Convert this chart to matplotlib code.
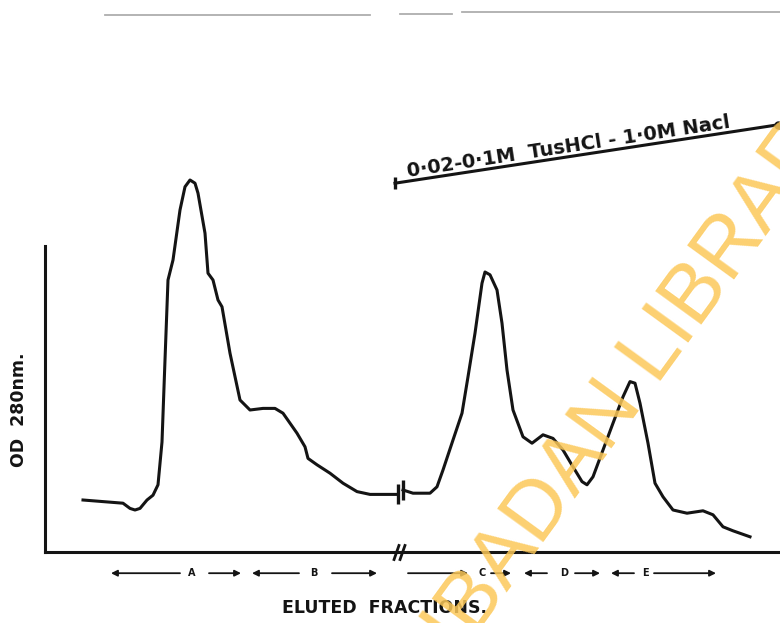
import numpy as np
import matplotlib as mpl
import matplotlib.pyplot as plt
from matplotlib.lines import Line2D

mpl.rcParams['font.family'] = ['DejaVu Sans']
ink = '#141414'

# elution profile: fraction number vs OD 280 nm
# first run (before the break in the x axis)
frac_run1 = [3.8, 7.8, 8.5, 9.0, 9.5, 10.2, 10.8, 11.3, 11.7, 12.0, 12.3, 12.8, 13.5,
             14.0, 14.5, 15.0, 15.3, 16.0, 16.3, 16.8, 17.3, 17.7, 18.5, 19.5, 20.5,
             21.8, 23.0, 23.8, 25.2, 26.0, 26.3, 27.2, 28.5, 29.8, 31.2, 32.5, 35.3]
od_run1 = [0.130, 0.122, 0.109, 0.105, 0.109, 0.130, 0.142, 0.168, 0.275, 0.480, 0.680,
           0.730, 0.855, 0.913, 0.930, 0.922, 0.897, 0.797, 0.697, 0.680, 0.630, 0.613,
           0.497, 0.380, 0.355, 0.359, 0.359, 0.347, 0.297, 0.263, 0.234, 0.218, 0.197,
           0.172, 0.151, 0.144, 0.144]

# second run (gradient elution)
frac_run2 = [35.8, 36.8, 38.5, 39.2, 39.8, 40.8, 41.7, 42.3, 43.0, 43.7, 44.0, 44.5,
             45.2, 45.7, 46.2, 46.8, 47.8, 48.7, 49.8, 50.8, 51.8, 52.8, 53.7, 54.2,
             54.8, 55.8, 56.8, 57.8, 58.5, 59.0, 59.5, 60.3, 61.0, 61.8, 62.8, 64.2,
             65.8, 66.8, 67.8, 68.8, 70.5]
od_run2 = [0.155, 0.147, 0.147, 0.163, 0.205, 0.280, 0.347, 0.438, 0.547, 0.672, 0.700,
           0.693, 0.655, 0.572, 0.455, 0.355, 0.288, 0.272, 0.293, 0.284, 0.255, 0.213,
           0.176, 0.168, 0.188, 0.255, 0.322, 0.388, 0.426, 0.422, 0.372, 0.272, 0.172,
           0.138, 0.105, 0.097, 0.103, 0.093, 0.063, 0.053, 0.038]

# salt gradient bar
grad_frac = [35.0, 73.3]
grad_od = [0.922, 1.068]
grad_text = '0·02-0·1M  TusHCl - 1·0M Nacl'

# pooled fractions
pools = ['A', 'B', 'C', 'D', 'E']
pool_label_x = [14.7, 26.9, 43.7, 51.9, 60.0]
pool_left = [(13.5, 6.6), (25.4, 20.7), (36.3, 42.3), (50.2, 47.9), (58.9, 56.6)]  # (tail, head)
pool_right = [(16.4, 19.6), (28.7, 33.2), (44.6, 46.6), (53.0, 55.5), (60.9, 67.1)]
pool_row = -0.053

fig = plt.figure(figsize=(7.8, 6.23), dpi=100)
ax = fig.add_axes([45 / 780, 71 / 623, 735 / 780, 552 / 623])
ax.set_xlim(0, 73.5)
ax.set_ylim(0, 1.38)
ax.set_xticks([])
ax.set_yticks([])
ax.patch.set_alpha(0)
for s in ['top', 'right']:
    ax.spines[s].set_visible(False)
ax.spines['left'].set_bounds(0, 0.765)
for s in ['left', 'bottom']:
    ax.spines[s].set_linewidth(2.2)
    ax.spines[s].set_color(ink)
    ax.spines[s].set_zorder(3)

# faint rule from the previous page
for (x0, x1, yy) in [(105, 370, 608), (400, 452, 609), (462, 780, 611)]:
    fig.add_artist(Line2D([x0 / 780, x1 / 780], [yy / 623, yy / 623], color='#9a9a9a',
                          lw=1.3, alpha=0.8))

# profile
ax.plot(frac_run1, od_run1, color=ink, lw=2.2, solid_joinstyle='round', zorder=4)
ax.plot(frac_run2, od_run2, color=ink, lw=2.2, solid_joinstyle='round', zorder=4)
ax.plot([frac_run1[-1], frac_run2[0]], [od_run1[-1], od_run2[0]], ls='none',
        marker='|', ms=15, mew=2.4, color=ink, zorder=4)

# break on the x axis
slash = [(-0.35, -1), (0.35, 1)]
ax.plot([35.1, 35.7], [0, 0], ls='none', marker=slash, ms=12, mew=2.0, color=ink,
        clip_on=False, zorder=5)

# gradient bar
ax.plot(grad_frac, grad_od, color=ink, lw=2.2, clip_on=False, zorder=4)
ax.plot(grad_frac[0], grad_od[0], marker='|', ms=9, mew=2.4, color=ink, clip_on=False)
ax.plot(grad_frac[-1], grad_od[-1], marker='o', ms=5, color=ink, clip_on=False)
ax.text(52.4, 1.012, grad_text, rotation=8.7, rotation_mode='anchor', ha='center',
        va='center', fontsize=14, fontweight='bold', color=ink)

# pooled fraction arrows
arrow_kw = dict(arrowstyle='-|>', color=ink, lw=1.3, mutation_scale=9,
                shrinkA=0, shrinkB=0)
for lab, lx, (t0, h0), (t1, h1) in zip(pools, pool_label_x, pool_left, pool_right):
    ax.annotate('', xy=(h0, pool_row), xytext=(t0, pool_row), arrowprops=arrow_kw,
                annotation_clip=False)
    ax.annotate('', xy=(h1, pool_row), xytext=(t1, pool_row), arrowprops=arrow_kw,
                annotation_clip=False)
    ax.text(lx, pool_row, lab, ha='center', va='center', fontsize=7,
            fontweight='bold', color=ink, clip_on=False)

fig.text(385 / 780, 15 / 623, 'ELUTED  FRACTIONS.', ha='center', va='center',
         fontsize=12.5, fontweight='bold', color=ink)
fig.text(19 / 780, 213 / 623, 'OD  280nm.', rotation=90, ha='center', va='center',
         fontsize=12.5, fontweight='bold', color=ink)

# watermark, stamped over the scan
fig.text(664 / 780, 246 / 623, 'IBADAN LIBRARY', rotation=54, rotation_mode='anchor',
         ha='center', va='baseline', fontsize=60, family='Liberation Sans',
         color='#fcc858', alpha=0.85, zorder=10)

plt.savefig('out.png', dpi=100)
